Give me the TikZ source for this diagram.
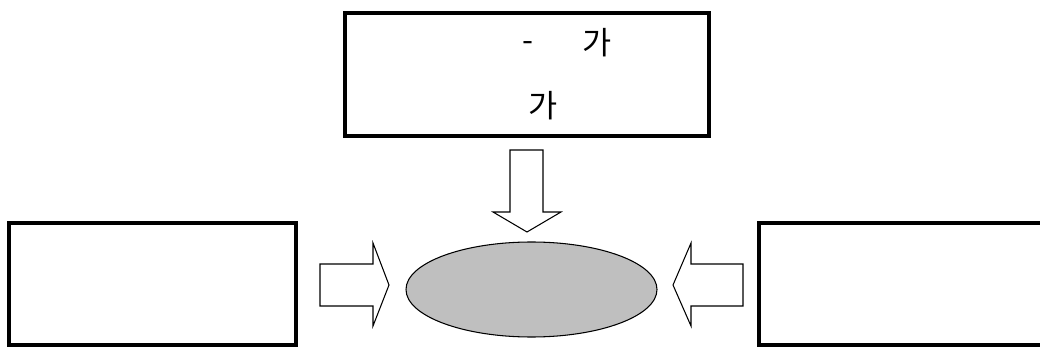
\documentclass[tikz,border=0pt]{standalone}
\usepackage{fontspec}
\newfontfamily\krfont{Noto Sans CJK KR}
\usetikzlibrary{shapes.geometric}
\tikzset{
  panel/.style={draw=black, line width=1.9pt, minimum width=57.4mm,
                minimum height=24.4mm, preaction={draw=black!45, line width=2.6pt}},
  hub/.style={ellipse, draw=black, line width=0.6pt, fill=black!25,
              minimum width=50.2mm, minimum height=19mm},
  fatarrow/.style={draw=black, line width=0.6pt, fill=white, line join=miter},
  hangul/.style={font=\krfont\fontsize{18}{21}\selectfont, inner sep=0pt},
}

\begin{document}
\begin{tikzpicture}[x=0.2mm, y=-0.2mm]
    \useasboundingbox (0,0) rectangle (1040,347);
    \node[panel, minimum width=72.8mm, minimum height=24.6mm] (top) at (527,74.5) {};
    \node[panel] (left) at (152.5,284) {};
    \node[panel] (right) at (902.5,284) {};
    \node[hub] (core) at (531.5,289.5) {};
    % labels in the top panel
    \node[hangul] (dash) at (527.5,47) {-};
    \node[hangul] (gaA) at (597,43) {가};
    \node[hangul] (gaB) at (543,106) {가};
    % block arrows into the ellipse
    \draw[fatarrow] (510,150) -- (543,150) -- (543,212) -- (561,212)
        -- (527,232) -- (493,212) -- (510,212) -- cycle;
    \draw[fatarrow] (320,264) -- (373,264) -- (373,243) -- (389,285)
        -- (373,326) -- (373,306) -- (320,306) -- cycle;
    \draw[fatarrow] (743,264) -- (691,264) -- (691,243) -- (673,285)
        -- (691,326) -- (691,306) -- (743,306) -- cycle;
\end{tikzpicture}
\end{document}
